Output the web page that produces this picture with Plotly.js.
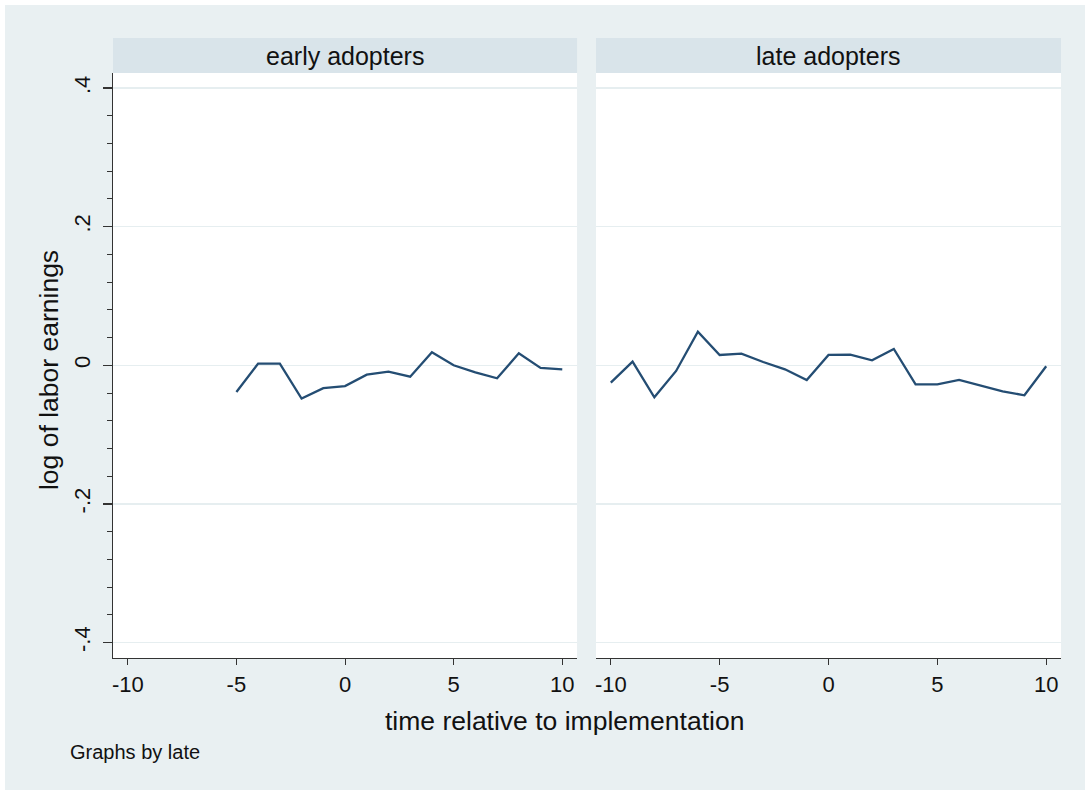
<!DOCTYPE html>
<html>
<head>
<meta charset="utf-8">
<script src="https://cdn.plot.ly/plotly-3.0.1.min.js"></script>
<style>
  html, body { margin: 0; padding: 0; background: #ffffff; }
  #chart { position: absolute; left: 5px; top: 5px; width: 1080px; height: 785px; }
</style>
</head>
<body>
<div id="chart"></div>
<script>
// Data
const earlyTime = [-5, -4, -3, -2, -1, 0, 1, 2, 3, 4, 5, 6, 7, 8, 9, 10];
const earlyValues = [-0.0385, 0.0024, 0.0024, -0.048, -0.033, -0.030, -0.0135, -0.0091, -0.0164, 0.0188, 0.0, -0.0101, -0.0188, 0.0173, -0.0039, -0.0058];

const lateTime = [-10, -9, -8, -7, -6, -5, -4, -3, -2, -1, 0, 1, 2, 3, 4, 5, 6, 7, 8, 9, 10];
const lateValues = [-0.025, 0.0053, -0.0462, -0.0082, 0.0486, 0.0149, 0.0168, 0.0048, -0.0058, -0.0212, 0.0149, 0.0154, 0.0072, 0.0236, -0.0274, -0.0274, -0.0212, -0.0298, -0.0375, -0.0433, -0.0014];

const panelTitles = ["early adopters", "late adopters"];
const xTickVals = [-10, -5, 0, 5, 10];
const xTickText = ["-10", "-5", "0", "5", "10"];
const yTickVals = [-0.4, -0.2, 0, 0.2, 0.4];
const yTickText = ["-.4", "-.2", "0", ".2", ".4"];

const lineColor = "#244d73";
const bgColor = "#e9f0f2";
const stripColor = "#d9e4ea";
const gridColor = "#e6eef0";
const fontFam = "Liberation Sans, Arial, Helvetica, sans-serif";

const traces = [
  { x: earlyTime, y: earlyValues, type: "scatter", mode: "lines", xaxis: "x", yaxis: "y",
    line: { color: lineColor, width: 2.3 }, showlegend: false, hoverinfo: "x+y" },
  { x: lateTime, y: lateValues, type: "scatter", mode: "lines", xaxis: "x2", yaxis: "y2",
    line: { color: lineColor, width: 2.3 }, showlegend: false, hoverinfo: "x+y" }
];

const xRange = [-10.68, 10.68];
const yRange = [-0.4224, 0.4218];

const xCommon = {
  range: xRange, tickvals: xTickVals, ticktext: xTickText,
  showline: true, linecolor: "#333333", linewidth: 1.2, mirror: false,
  ticks: "outside", ticklen: 6, tickcolor: "#333333", tickwidth: 1,
  showgrid: false, zeroline: false,
  tickfont: { family: fontFam, size: 22, color: "#111111" }
};
const yCommon = {
  range: yRange, tickvals: yTickVals, ticktext: yTickText,
  showgrid: true, gridcolor: gridColor, gridwidth: 1.5, zeroline: false
};

const stripH = 0.0598;
const layout = {
  width: 1080, height: 785,
  paper_bgcolor: bgColor, plot_bgcolor: "#ffffff",
  margin: { l: 108, r: 24, t: 68, b: 132 },
  font: { family: fontFam, color: "#111111" },
  showlegend: false,
  xaxis: Object.assign({}, xCommon, { domain: [0, 0.4895], anchor: "y" }),
  xaxis2: Object.assign({}, xCommon, { domain: [0.5095, 1], anchor: "y2" }),
  yaxis: Object.assign({}, yCommon, {
    anchor: "x", showline: true, linecolor: "#333333", linewidth: 1.2,
    ticks: "outside", ticklen: 9, tickcolor: "#333333", tickwidth: 1.5,
    ticklabelstandoff: 4,
    minor: { tick0: 0, dtick: 0.04, ticks: "outside", ticklen: 5, tickcolor: "#333333", tickwidth: 1, showgrid: false },
    tickangle: -90, tickfont: { family: fontFam, size: 22, color: "#111111" }
  }),
  yaxis2: Object.assign({}, yCommon, {
    anchor: "x2", matches: "y", showline: false, showticklabels: false, ticks: ""
  }),
  shapes: [
    { type: "rect", xref: "x domain", yref: "paper", x0: 0, x1: 1, y0: 1, y1: 1 + stripH,
      fillcolor: stripColor, line: { width: 0 }, layer: "below" },
    { type: "rect", xref: "x2 domain", yref: "paper", x0: 0, x1: 1, y0: 1, y1: 1 + stripH,
      fillcolor: stripColor, line: { width: 0 }, layer: "below" }
  ],
  annotations: [
    { text: panelTitles[0], xref: "x domain", yref: "paper", x: 0.5, y: 1.029,
      xanchor: "center", yanchor: "middle", showarrow: false,
      font: { family: fontFam, size: 25, color: "#111111" } },
    { text: panelTitles[1], xref: "x2 domain", yref: "paper", x: 0.5, y: 1.029,
      xanchor: "center", yanchor: "middle", showarrow: false,
      font: { family: fontFam, size: 25, color: "#111111" } },
    { text: "time relative to implementation", xref: "paper", yref: "paper",
      x: 0.4763, y: -0.1077, xanchor: "center", yanchor: "middle", showarrow: false,
      font: { family: fontFam, size: 26.5, color: "#111111" } },
    { text: "log of labor earnings", xref: "paper", yref: "paper",
      x: -0.0675, y: 0.4923, xanchor: "center", yanchor: "middle", showarrow: false,
      textangle: -90, font: { family: fontFam, size: 26.5, color: "#111111" } },
    { text: "Graphs by late", xref: "paper", yref: "paper",
      x: -0.0475, y: -0.1607, xanchor: "left", yanchor: "middle", showarrow: false,
      font: { family: fontFam, size: 20, color: "#111111" } }
  ]
};

Plotly.newPlot("chart", traces, layout, { displayModeBar: false, staticPlot: true });
</script>
</body>
</html>
